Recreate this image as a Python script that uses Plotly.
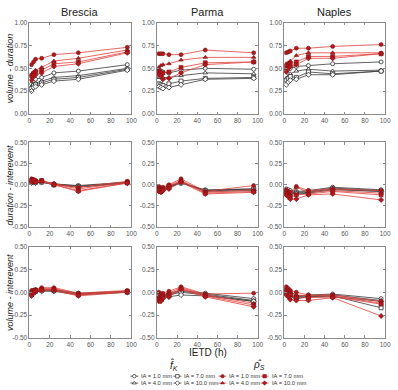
import plotly.graph_objects as go

# ---------------- data ----------------
IETD = [2, 4, 6, 12, 24, 48, 96]
CITIES = ["Brescia", "Parma", "Naples"]
ROW_TITLES = ["volume - duration", "duration - interevent", "volume - interevent"]
IA_LABELS = ["IA = 1.0 mm", "IA = 4.0 mm", "IA = 7.0 mm", "IA = 10.0 mm"]
X_TICKS = [0, 20, 40, 60, 80, 100]
Y_TICKS_TOP = [0.0, 0.25, 0.5, 0.75, 1.0]
Y_TICKS_DIFF = [-0.5, -0.25, 0.0, 0.25, 0.5]

# black open markers: f_K estimator; red filled: rho_S estimator
BRESCIA_VD_K = [[0.33, 0.36, 0.38, 0.40, 0.45, 0.47, 0.54],
                [0.30, 0.33, 0.34, 0.36, 0.40, 0.42, 0.50],
                [0.28, 0.31, 0.32, 0.34, 0.38, 0.40, 0.49],
                [0.25, 0.29, 0.30, 0.32, 0.36, 0.38, 0.48]]
BRESCIA_VD_R = [[0.54, 0.57, 0.60, 0.61, 0.65, 0.67, 0.73],
                [0.43, 0.46, 0.48, 0.51, 0.58, 0.61, 0.70],
                [0.42, 0.44, 0.46, 0.48, 0.55, 0.57, 0.68],
                [0.37, 0.41, 0.43, 0.45, 0.52, 0.55, 0.67]]
PARMA_VD_K = [[0.47, 0.47, 0.46, 0.45, 0.48, 0.50, 0.49],
              [0.40, 0.40, 0.40, 0.40, 0.42, 0.45, 0.44],
              [0.33, 0.32, 0.31, 0.33, 0.36, 0.39, 0.40],
              [0.30, 0.29, 0.28, 0.29, 0.32, 0.38, 0.39]]
PARMA_VD_R = [[0.66, 0.66, 0.66, 0.65, 0.65, 0.70, 0.67],
              [0.51, 0.53, 0.54, 0.55, 0.59, 0.62, 0.62],
              [0.47, 0.45, 0.45, 0.46, 0.51, 0.56, 0.57],
              [0.43, 0.42, 0.38, 0.39, 0.45, 0.54, 0.57]]
NAPLES_VD_K = [[0.48, 0.49, 0.50, 0.52, 0.53, 0.55, 0.57],
               [0.39, 0.41, 0.44, 0.47, 0.49, 0.47, 0.48],
               [0.37, 0.39, 0.41, 0.40, 0.46, 0.44, 0.47],
               [0.32, 0.35, 0.37, 0.38, 0.43, 0.43, 0.47]]
NAPLES_VD_R = [[0.67, 0.68, 0.69, 0.72, 0.72, 0.74, 0.76],
               [0.55, 0.56, 0.58, 0.64, 0.67, 0.67, 0.67],
               [0.51, 0.53, 0.55, 0.57, 0.63, 0.63, 0.66],
               [0.46, 0.50, 0.52, 0.54, 0.61, 0.61, 0.66]]

BRESCIA_DI_K = [[0.05, 0.04, 0.03, 0.04, 0.01, -0.01, 0.03],
                [0.04, 0.03, 0.04, 0.04, 0.01, -0.02, 0.02],
                [0.03, 0.05, 0.03, 0.03, 0.00, -0.02, 0.03],
                [0.02, 0.03, 0.02, 0.03, 0.00, -0.03, 0.02]]
BRESCIA_DI_R = [[0.07, 0.06, 0.05, 0.05, 0.01, -0.03, 0.04],
                [0.06, 0.05, 0.04, 0.04, 0.01, -0.05, 0.03],
                [0.05, 0.04, 0.04, 0.05, 0.00, -0.07, 0.02],
                [0.03, 0.06, 0.03, 0.04, 0.00, -0.08, 0.02]]
PARMA_DI_K = [[-0.03, -0.05, -0.04, -0.01, 0.02, -0.06, -0.05],
              [-0.05, -0.06, -0.05, -0.02, 0.03, -0.07, -0.06],
              [-0.06, -0.07, -0.05, -0.03, 0.02, -0.07, -0.05],
              [-0.07, -0.08, -0.06, -0.04, 0.03, -0.08, -0.07]]
PARMA_DI_R = [[-0.02, -0.04, -0.03, 0.00, 0.07, -0.08, -0.01],
              [-0.04, -0.06, -0.05, -0.01, 0.05, -0.09, -0.06],
              [-0.06, -0.08, -0.06, -0.02, 0.04, -0.10, -0.08],
              [-0.08, -0.09, -0.07, -0.05, 0.03, -0.11, -0.09]]
NAPLES_DI_K = [[-0.05, -0.06, -0.07, -0.08, -0.07, -0.03, -0.06],
               [-0.07, -0.08, -0.09, -0.09, -0.08, -0.04, -0.07],
               [-0.08, -0.09, -0.10, -0.10, -0.09, -0.05, -0.08],
               [-0.09, -0.10, -0.10, -0.11, -0.10, -0.06, -0.08]]
NAPLES_DI_R = [[-0.06, -0.08, -0.09, -0.02, -0.07, -0.05, -0.07],
               [-0.09, -0.10, -0.12, -0.03, -0.09, -0.07, -0.10],
               [-0.11, -0.13, -0.15, -0.12, -0.11, -0.08, -0.12],
               [-0.12, -0.14, -0.17, -0.17, -0.12, -0.11, -0.18]]

BRESCIA_VI_K = [[0.01, 0.02, 0.02, 0.03, 0.03, -0.01, 0.01],
                [-0.01, 0.01, 0.02, 0.02, 0.02, -0.02, 0.01],
                [-0.02, 0.00, 0.01, 0.02, 0.02, -0.02, 0.00],
                [-0.03, -0.01, 0.01, 0.01, 0.01, -0.03, 0.00]]
BRESCIA_VI_R = [[0.02, 0.02, 0.03, 0.05, 0.05, -0.01, 0.02],
                [0.00, 0.01, 0.03, 0.04, 0.04, -0.02, 0.01],
                [-0.02, 0.00, 0.02, 0.03, 0.03, -0.03, 0.01],
                [-0.04, -0.01, 0.01, 0.02, 0.02, -0.04, 0.00]]
PARMA_VI_K = [[-0.04, -0.05, -0.03, -0.01, 0.02, -0.01, -0.07],
              [-0.06, -0.07, -0.04, -0.02, 0.01, -0.02, -0.09],
              [-0.07, -0.08, -0.05, -0.03, 0.00, -0.03, -0.10],
              [-0.08, -0.09, -0.06, -0.05, -0.03, -0.04, -0.10]]
PARMA_VI_R = [[0.00, -0.02, -0.01, 0.01, 0.06, -0.02, -0.01],
              [-0.05, -0.05, -0.03, -0.01, 0.05, -0.03, -0.12],
              [-0.08, -0.08, -0.05, -0.03, 0.04, -0.04, -0.14],
              [-0.10, -0.10, -0.07, -0.05, 0.03, -0.05, -0.16]]
NAPLES_VI_K = [[0.03, 0.02, 0.01, -0.04, -0.03, -0.02, -0.07],
               [0.01, 0.00, -0.01, -0.05, -0.04, -0.03, -0.09],
               [0.00, -0.02, -0.03, -0.06, -0.05, -0.04, -0.17],
               [-0.02, -0.03, -0.05, -0.07, -0.05, -0.05, -0.10]]
NAPLES_VI_R = [[0.06, 0.04, 0.02, 0.00, -0.03, -0.03, -0.10],
               [0.03, 0.02, 0.00, -0.03, -0.04, -0.04, -0.12],
               [0.00, -0.02, -0.03, -0.06, -0.06, -0.05, -0.13],
               [-0.03, -0.05, -0.08, -0.09, -0.09, -0.06, -0.26]]

PANELS = [
    [(BRESCIA_VD_K, BRESCIA_VD_R), (PARMA_VD_K, PARMA_VD_R), (NAPLES_VD_K, NAPLES_VD_R)],
    [(BRESCIA_DI_K, BRESCIA_DI_R), (PARMA_DI_K, PARMA_DI_R), (NAPLES_DI_K, NAPLES_DI_R)],
    [(BRESCIA_VI_K, BRESCIA_VI_R), (PARMA_VI_K, PARMA_VI_R), (NAPLES_VI_K, NAPLES_VI_R)],
]

# ---------------- styling / layout ----------------
W, H = 398, 390
FONT = "Liberation Sans, Arial, sans-serif"
COL_PX = [(28, 132), (158, 261), (288, 391)]
ROW_PX = [(19, 112), (141, 227), (247, 340)]
SYMBOLS = ["circle", "triangle-up", "square", "diamond"]
K_LINE, K_MK = "#3a3a3a", "#2a2a2a"
R_LINE, R_MK, R_MK_EDGE = "#e2403a", "#b3191c", "#7d1012"
MK_SIZE = 4

fig = go.Figure()

def ax_id(r, c):
    return r * 3 + c + 1

for r in range(3):
    for c in range(3):
        n = ax_id(r, c)
        xa = "x" if n == 1 else f"x{n}"
        ya = "y" if n == 1 else f"y{n}"
        k_set, r_set = PANELS[r][c]
        for i, ys in enumerate(k_set):
            fig.add_trace(go.Scatter(
                x=IETD, y=ys, xaxis=xa, yaxis=ya, mode="lines+markers",
                line=dict(color=K_LINE, width=0.8),
                marker=dict(symbol=SYMBOLS[i], size=MK_SIZE, color="white",
                            line=dict(color=K_MK, width=0.8)),
                showlegend=False, hoverinfo="skip"))
        for i, ys in enumerate(r_set):
            fig.add_trace(go.Scatter(
                x=IETD, y=ys, xaxis=xa, yaxis=ya, mode="lines+markers",
                line=dict(color=R_LINE, width=0.8),
                marker=dict(symbol=SYMBOLS[i], size=MK_SIZE, color=R_MK,
                            line=dict(color=R_MK_EDGE, width=0.6)),
                showlegend=False, hoverinfo="skip"))

        x0, x1 = COL_PX[c]
        y0, y1 = ROW_PX[r]
        common = dict(showgrid=False, zeroline=False, showline=True, linecolor="#8a8a8a",
                      linewidth=0.8, mirror="ticks", ticks="inside", ticklen=2.5,
                      tickcolor="#8a8a8a", tickwidth=0.8,
                      tickfont=dict(size=6.5, color="#555", family=FONT))
        xkey = "xaxis" if n == 1 else f"xaxis{n}"
        ykey = "yaxis" if n == 1 else f"yaxis{n}"
        fig.layout[xkey] = dict(domain=[x0 / W, x1 / W], anchor=ya, range=[0, 100],
                                tickvals=X_TICKS, **common)
        if r == 0:
            yt, yr = Y_TICKS_TOP, [0, 1]
        else:
            yt, yr = Y_TICKS_DIFF, [-0.5, 0.5]
        fig.layout[ykey] = dict(domain=[1 - y1 / H, 1 - y0 / H], anchor=xa, range=yr,
                                tickvals=yt, ticktext=[f"{v:.2f}" for v in yt], **common)

annotations = []
for c, name in enumerate(CITIES):
    cx = (COL_PX[c][0] + COL_PX[c][1]) / 2
    annotations.append(dict(text=name, x=cx / W, y=1 - 8 / H, xref="paper", yref="paper",
                            showarrow=False, xanchor="center", yanchor="middle",
                            font=dict(size=11, family=FONT, color="#222")))
for r, t in enumerate(ROW_TITLES):
    cy = (ROW_PX[r][0] + ROW_PX[r][1]) / 2
    annotations.append(dict(text=f"<i>{t}</i>", x=8 / W, y=1 - cy / H, xref="paper", yref="paper",
                            showarrow=False, textangle=-90, xanchor="center", yanchor="middle",
                            font=dict(size=9, family=FONT, color="#222")))
annotations.append(dict(text="IETD (h)", x=210 / W, y=1 - 355 / H, xref="paper", yref="paper",
                        showarrow=False, xanchor="center", yanchor="middle",
                        font=dict(size=10, family=FONT, color="#222")))
annotations.append(dict(text="<i>f\u0302</i><sub><i>K</i></sub>", x=176 / W, y=1 - 368 / H,
                        xref="paper", yref="paper", showarrow=False,
                        xanchor="center", yanchor="middle",
                        font=dict(size=10, family=FONT, color="#222")))
annotations.append(dict(text="<i>\u03c1\u0302</i><sub><i>S</i></sub>", x=262 / W, y=1 - 368 / H,
                        xref="paper", yref="paper", showarrow=False,
                        xanchor="center", yanchor="middle",
                        font=dict(size=10, family=FONT, color="#222")))

# legend key (drawn on a hidden helper axis in pixel units)
LEG_COLS = [131, 175, 221, 264]   # left edge of each key column (px)
LEG_ROWS = [379, 386]             # centre of each key row (px)
SAMPLE_W = 8
fig.layout["xaxis10"] = dict(domain=[0, 1], range=[0, W], visible=False, fixedrange=True)
fig.layout["yaxis10"] = dict(domain=[0, 1], range=[H, 0], visible=False, fixedrange=True)
for grp in range(2):          # 0 = black (f_K), 1 = red (rho_S)
    for i in range(4):
        col = grp * 2 + (i // 2)
        row = i % 2
        lx = LEG_COLS[col]
        ly = LEG_ROWS[row]
        if grp == 0:
            lc, mk = K_LINE, dict(symbol=SYMBOLS[i], size=3.5, color="white", line=dict(color=K_MK, width=0.7))
        else:
            lc, mk = R_LINE, dict(symbol=SYMBOLS[i], size=3.5, color=R_MK, line=dict(color=R_MK_EDGE, width=0.5))
        fig.add_trace(go.Scatter(x=[lx, lx + SAMPLE_W], y=[ly, ly], xaxis="x10", yaxis="y10",
                                 mode="lines", line=dict(color=lc, width=0.8),
                                 showlegend=False, hoverinfo="skip"))
        fig.add_trace(go.Scatter(x=[lx + SAMPLE_W / 2], y=[ly], xaxis="x10", yaxis="y10",
                                 mode="markers", marker=mk, showlegend=False, hoverinfo="skip"))
        annotations.append(dict(text=IA_LABELS[i], x=(lx + SAMPLE_W + 1) / W, y=1 - ly / H,
                                xref="paper", yref="paper", showarrow=False,
                                xanchor="left", yanchor="middle",
                                font=dict(size=5.8, family=FONT, color="#333")))

fig.update_layout(width=W, height=H, margin=dict(l=0, r=0, t=0, b=0),
                  paper_bgcolor="white", plot_bgcolor="rgba(0,0,0,0)",
                  annotations=annotations, showlegend=False,
                  font=dict(family=FONT))

fig.write_html("out.html")
